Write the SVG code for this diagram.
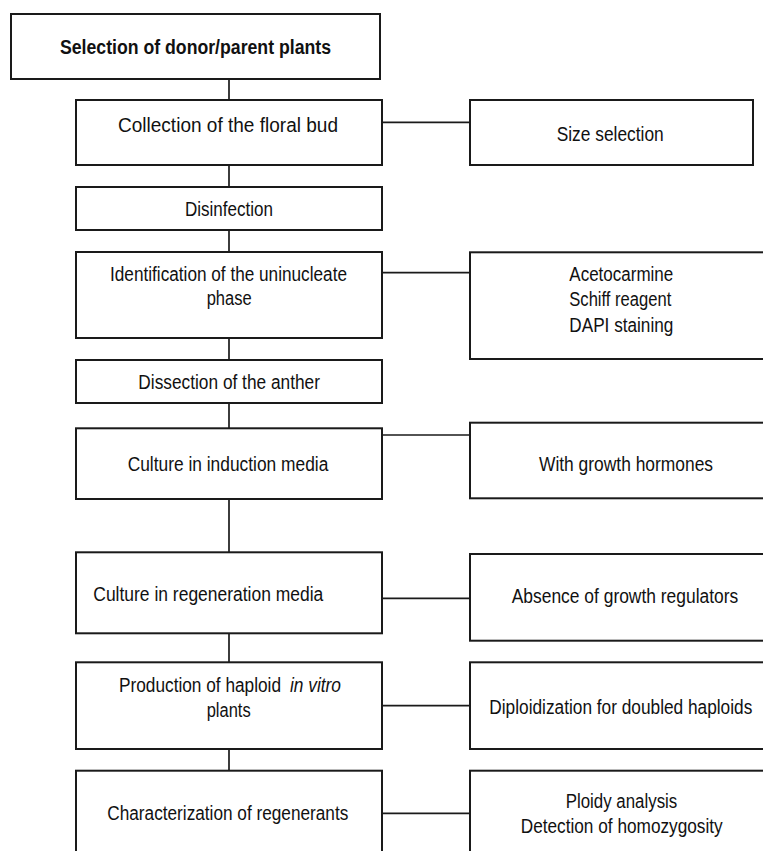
<svg xmlns="http://www.w3.org/2000/svg" width="763" height="851" viewBox="0 0 763 851">
<style>
.box{fill:#fff;stroke:#1a1a1a;stroke-width:2}
.ln{stroke:#1a1a1a;stroke-width:1.7;fill:none}
text{font-family:"Liberation Sans",Arial,sans-serif;font-size:20px;fill:#111}
.b{font-weight:bold}
</style>
<rect width="763" height="851" fill="#fff"/>
<g id="connectors">
<line class="ln" x1="229" y1="79" x2="229" y2="100"/>
<line class="ln" x1="229" y1="165" x2="229" y2="187"/>
<line class="ln" x1="229" y1="230" x2="229" y2="252"/>
<line class="ln" x1="229" y1="338" x2="229" y2="360"/>
<line class="ln" x1="229" y1="403" x2="229" y2="428"/>
<line class="ln" x1="229" y1="499" x2="229" y2="552"/>
<line class="ln" x1="229" y1="633" x2="229" y2="662"/>
<line class="ln" x1="229" y1="749" x2="229" y2="771"/>
<line class="ln" x1="382" y1="122.3" x2="470" y2="122.3"/>
<line class="ln" x1="382" y1="272.7" x2="470" y2="272.7"/>
<line class="ln" x1="382" y1="435" x2="470" y2="435"/>
<line class="ln" x1="382" y1="598.3" x2="470" y2="598.3"/>
<line class="ln" x1="382" y1="705.7" x2="470" y2="705.7"/>
<line class="ln" x1="382" y1="813.3" x2="470" y2="813.3"/>
</g>
<g id="n1"><rect class="box" x="11" y="14" width="369" height="65"/><text class="b" x="60" y="54" textLength="271" lengthAdjust="spacingAndGlyphs">Selection of donor/parent plants</text></g>
<g id="n2"><rect class="box" x="76" y="100" width="306" height="65"/><text x="118" y="132" textLength="220" lengthAdjust="spacingAndGlyphs">Collection of the floral bud</text></g>
<g id="n3"><rect class="box" x="470" y="100" width="283" height="65"/><text x="556.7" y="140.7" textLength="107" lengthAdjust="spacingAndGlyphs">Size selection</text></g>
<g id="n4"><rect class="box" x="76" y="187" width="306" height="43"/><text x="185" y="215.7" textLength="88" lengthAdjust="spacingAndGlyphs">Disinfection</text></g>
<g id="n5"><rect class="box" x="76" y="252" width="306" height="86"/><text x="110" y="280.7" textLength="237" lengthAdjust="spacingAndGlyphs">Identification of the uninucleate</text><text x="206.7" y="305" textLength="45" lengthAdjust="spacingAndGlyphs">phase</text></g>
<g id="n6"><rect class="box" x="470" y="252.3" width="300" height="106.7"/><text x="569.3" y="280.7" textLength="104" lengthAdjust="spacingAndGlyphs">Acetocarmine</text><text x="569.3" y="306" textLength="102" lengthAdjust="spacingAndGlyphs">Schiff reagent</text><text x="569.3" y="331.7" textLength="104" lengthAdjust="spacingAndGlyphs">DAPI staining</text></g>
<g id="n7"><rect class="box" x="76" y="360" width="306" height="43"/><text x="138.3" y="389" textLength="181.7" lengthAdjust="spacingAndGlyphs">Dissection of the anther</text></g>
<g id="n8"><rect class="box" x="76" y="428.3" width="306" height="70.7"/><text x="127.7" y="470.7" textLength="200.6" lengthAdjust="spacingAndGlyphs">Culture in induction media</text></g>
<g id="n9"><rect class="box" x="470" y="422.7" width="300" height="75.6"/><text x="539" y="470.7" textLength="174" lengthAdjust="spacingAndGlyphs">With growth hormones</text></g>
<g id="n10"><rect class="box" x="76" y="552.3" width="306" height="81"/><text x="93.3" y="600.7" textLength="230" lengthAdjust="spacingAndGlyphs">Culture in regeneration media</text></g>
<g id="n11"><rect class="box" x="470" y="554" width="300" height="86.7"/><text x="511.7" y="602.7" textLength="226.6" lengthAdjust="spacingAndGlyphs">Absence of growth regulators</text></g>
<g id="n12"><rect class="box" x="76" y="662.3" width="306" height="86.7"/><text x="119" y="691.7"><tspan textLength="162" lengthAdjust="spacingAndGlyphs">Production of haploid</tspan><tspan x="290" font-style="italic" textLength="51" lengthAdjust="spacingAndGlyphs">in vitro</tspan></text><text x="206.7" y="716.7" textLength="44" lengthAdjust="spacingAndGlyphs">plants</text></g>
<g id="n13"><rect class="box" x="470" y="662.3" width="300" height="86.7"/><text x="489.3" y="714.3" textLength="263" lengthAdjust="spacingAndGlyphs">Diploidization for doubled haploids</text></g>
<g id="n14"><rect class="box" x="76" y="770.7" width="306" height="100"/><text x="107.3" y="820" textLength="241" lengthAdjust="spacingAndGlyphs">Characterization of regenerants</text></g>
<g id="n15"><rect class="box" x="470" y="770.7" width="300" height="100"/><text x="565.7" y="808.3" textLength="111.6" lengthAdjust="spacingAndGlyphs">Ploidy analysis</text><text x="520.7" y="833.3" textLength="202" lengthAdjust="spacingAndGlyphs">Detection of homozygosity</text></g>
</svg>
